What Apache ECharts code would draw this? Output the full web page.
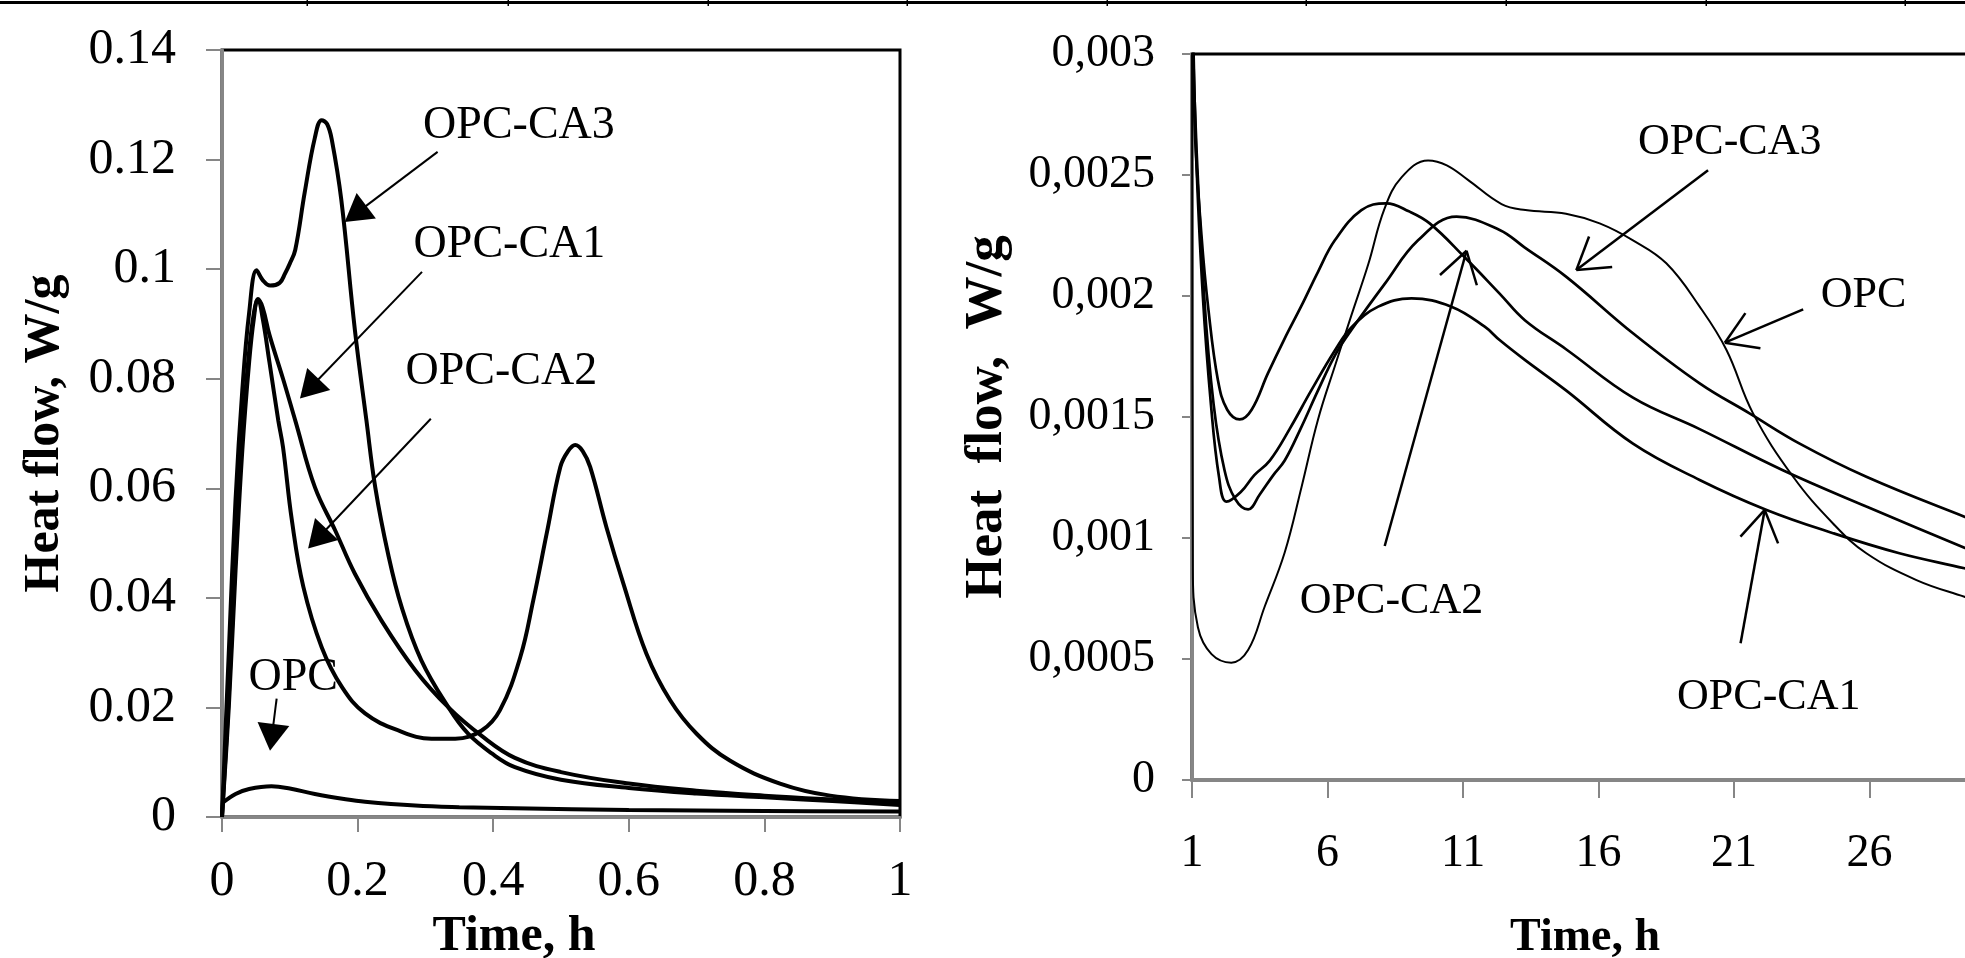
<!DOCTYPE html>
<html>
<head>
<meta charset="utf-8">
<title>Heat flow</title>
<script src="https://cdn.jsdelivr.net/npm/echarts@6/dist/echarts.min.js"></script>
<style>
  html, body { margin: 0; padding: 0; background: #fff; }
  #chart { width: 1965px; height: 958px; }
</style>
</head>
<body>
<div id="chart"></div>
<script>
// ---- data: left panel, first hour (x = h, y = W/g) ----
var opcLeft = [[0, 0.0025], [0.02, 0.0042], [0.04, 0.0051], [0.073, 0.0056], [0.1, 0.0052], [0.137, 0.0042],
  [0.18, 0.0033], [0.211, 0.0028], [0.285, 0.0021], [0.35, 0.0018], [0.432, 0.0016], [0.6, 0.0013], [0.8, 0.0011], [1, 0.001]]
var ca1Left = [[0, 0], [0.01, 0.02], [0.02, 0.045], [0.03, 0.067], [0.04, 0.083], [0.047, 0.091], [0.053, 0.0945],
  [0.06, 0.093], [0.07, 0.088], [0.09, 0.08], [0.108, 0.0724], [0.137, 0.0602], [0.167, 0.0523], [0.196, 0.0444],
  [0.235, 0.0359], [0.285, 0.0268], [0.334, 0.02], [0.383, 0.0148], [0.432, 0.0108], [0.5, 0.0082], [0.6, 0.0061],
  [0.7, 0.0048], [0.8, 0.0039], [0.9, 0.0032], [1, 0.0026]]
var ca2Left = [[0, 0], [0.01, 0.022], [0.02, 0.048], [0.03, 0.07], [0.04, 0.085], [0.047, 0.092], [0.053, 0.0945],
  [0.06, 0.091], [0.07, 0.083], [0.083, 0.0724], [0.09, 0.0675], [0.103, 0.0542], [0.12, 0.042], [0.147, 0.031],
  [0.177, 0.0237], [0.211, 0.0189], [0.26, 0.0158], [0.309, 0.0143], [0.344, 0.0143], [0.383, 0.0158], [0.41, 0.0195],
  [0.44, 0.0292], [0.459, 0.0395], [0.479, 0.0518], [0.499, 0.0639], [0.51, 0.0667], [0.521, 0.0679], [0.532, 0.0668],
  [0.543, 0.0639], [0.567, 0.0529], [0.592, 0.0426], [0.626, 0.0298], [0.661, 0.0213], [0.7, 0.0152], [0.749, 0.0103],
  [0.823, 0.0061], [0.897, 0.0039], [1, 0.0029]]
var ca3Left = [[0, 0], [0.01, 0.03], [0.02, 0.058], [0.03, 0.078], [0.04, 0.092], [0.051, 0.0998], [0.06, 0.098],
  [0.071, 0.097], [0.085, 0.0975], [0.093, 0.0992], [0.1, 0.101], [0.108, 0.1035], [0.122, 0.114], [0.137, 0.124],
  [0.147, 0.1272], [0.155, 0.1265], [0.162, 0.1236], [0.176, 0.1126], [0.196, 0.0889], [0.213, 0.0724], [0.226, 0.0602],
  [0.245, 0.048], [0.265, 0.0383], [0.294, 0.0286], [0.334, 0.02], [0.363, 0.0152], [0.398, 0.0116], [0.432, 0.0091],
  [0.5, 0.0068], [0.6, 0.0053], [0.7, 0.0043], [0.8, 0.0036], [0.9, 0.0029], [1, 0.0022]]

// ---- data: right panel, 1..30 h ----
var opcRight = [[1, 0.0032], [1.03, 0.00088], [1.22, 0.00063], [1.72, 0.00052], [2.45, 0.000485], [3.07, 0.000537],
  [3.68, 0.000716], [4.42, 0.00094], [5.04, 0.00121], [5.65, 0.00149], [6.3, 0.00172], [6.88, 0.00192], [7.5, 0.00213],
  [8.1, 0.00236], [8.73, 0.00249], [9.71, 0.00256], [10.4, 0.00254], [11.18, 0.00248], [12.42, 0.00238], [13.3, 0.002355],
  [14.8, 0.00234], [16.04, 0.0023], [17.27, 0.00223], [18.5, 0.002135], [19.73, 0.001956], [20.72, 0.001777],
  [21.7, 0.001515], [23.18, 0.001253], [24.65, 0.00106], [25.88, 0.000937], [27.73, 0.000826], [29.5, 0.000757], [30, 0.00074]]
var ca1Right = [[1, 0.0034], [1.15, 0.0026], [1.4, 0.002], [1.7, 0.00155], [2.0, 0.00125], [2.27, 0.00115],
  [2.8, 0.00119], [3.3, 0.00126], [3.87, 0.00132], [4.6, 0.00145], [5.4, 0.00161], [6.3, 0.00178], [6.88, 0.00187],
  [7.87, 0.001956], [9.1, 0.00199], [10.57, 0.001956], [11.8, 0.001873], [12.35, 0.001818], [13.28, 0.001736],
  [14.8, 0.00161], [17.27, 0.00139], [19.73, 0.00124], [22.2, 0.001116], [24.65, 0.00102], [27.1, 0.000937],
  [29.5, 0.000875], [30, 0.00086]]
var ca2Right = [[1, 0.0034], [1.1, 0.0027], [1.35, 0.00225], [1.6, 0.00195], [1.96, 0.00165], [2.3, 0.00153],
  [2.76, 0.00149], [3.2, 0.00153], [3.8, 0.00168], [4.4, 0.00182], [5.04, 0.00196], [5.65, 0.0021], [6.27, 0.00223],
  [7.25, 0.002355], [8.17, 0.002383], [9.0, 0.00235], [9.77, 0.0023], [11.06, 0.00216], [12.35, 0.00201],
  [13.28, 0.0019], [14.8, 0.00178], [17.27, 0.00158], [19.73, 0.00145], [22.8, 0.00128], [25.88, 0.00113],
  [29.5, 0.00096], [30, 0.00094]]
var ca3Right = [[1, 0.0034], [1.1, 0.0028], [1.45, 0.002], [1.8, 0.00155], [2.2, 0.00128], [2.6, 0.00116],
  [3.07, 0.001118], [3.5, 0.00118], [4.0, 0.00126], [4.42, 0.00132], [5.0, 0.00145], [5.65, 0.00161], [6.3, 0.00176],
  [6.88, 0.00186], [8.11, 0.00205], [9.34, 0.00223], [10.76, 0.002328], [12.35, 0.002273], [13.28, 0.0022],
  [14.8, 0.00208], [17.27, 0.001846], [19.73, 0.001639], [21.57, 0.001515], [23.42, 0.00139], [25.88, 0.001253],
  [29.5, 0.001088], [30, 0.00107]]

// tick labels
var leftXLabels = ['0', '0.2', '0.4', '0.6', '0.8', '1']
var leftYLabels = ['0', '0.02', '0.04', '0.06', '0.08', '0.1', '0.12', '0.14']
var rightXLabels = ['1', '6', '11', '16', '21', '26']
var rightYLabels = ['0', '0,0005', '0,001', '0,0015', '0,002', '0,0025', '0,003']

// callouts (data coordinates): label centre, arrow start, arrow tip
var leftNames = ['OPC-CA3', 'OPC-CA1', 'OPC-CA2', 'OPC']
var leftTextAt = [[0.438, 0.1261], [0.424, 0.1045], [0.412, 0.0813], [0.105, 0.0253]]
var leftArrowFrom = [[0.318, 0.1214], [0.295, 0.0995], [0.308, 0.0727], [0.0806, 0.0216]]
var leftArrowTo = [[0.181, 0.1086], [0.115, 0.0764], [0.127, 0.049], [0.0708, 0.0121]]
var rightNames = ['OPC-CA3', 'OPC', 'OPC-CA2', 'OPC-CA1']
var rightTextAt = [[20.84, 0.002636], [25.78, 0.002002], [8.36, 0.000737], [22.28, 0.000341]]
var rightArrowFrom = [[20.04, 0.00252], [23.55, 0.001945], [8.11, 0.000967], [21.24, 0.000565]]
var rightArrowTo = [[15.18, 0.002107], [20.66, 0.001807], [11.13, 0.002187], [22.13, 0.001116]]

var FONT = '"Liberation Serif", "Times New Roman", serif'
var AXIS_GREY = '#868686'

function labels(names, textAt, fontSize) {
  return {
    silent: true,
    animation: false,
    symbol: 'rect',
    symbolSize: 1,
    itemStyle: { color: 'rgba(0,0,0,0)' },
    label: {
      show: true,
      position: 'inside',
      formatter: function (p) { return p.name },
      color: '#000',
      fontSize: fontSize,
      fontFamily: FONT
    },
    data: names.map(function (n, i) {
      return { name: n, coord: textAt[i] }
    })
  }
}

function curve(data, idx, width, marks) {
  var s = {
    type: 'line',
    xAxisIndex: idx,
    yAxisIndex: idx,
    data: data,
    showSymbol: false,
    smooth: 0.4,
    clip: true,
    animation: false,
    lineStyle: { color: '#000', width: width }
  }
  if (marks) s.markPoint = marks
  return s
}

function valueAxis(o) {
  return {
    type: 'value',
    gridIndex: o.grid,
    min: o.min,
    max: o.max,
    interval: o.interval,
    splitLine: { show: false },
    axisLine: { show: true, onZero: false, lineStyle: { color: AXIS_GREY, width: o.lineWidth } },
    axisTick: { show: true, inside: false, length: o.tickLen, lineStyle: { color: AXIS_GREY, width: 2 } },
    axisLabel: {
      margin: o.margin,
      color: '#000',
      fontSize: o.fontSize,
      fontFamily: FONT,
      showMaxLabel: o.showMax,
      formatter: function (v) {
        return o.labels[Math.round((v - o.min) / o.interval)]
      }
    },
    name: o.name,
    nameLocation: 'middle',
    nameGap: o.nameGap,
    nameRotate: o.nameRotate,
    nameTextStyle: {
      color: '#000',
      fontSize: o.nameSize,
      fontWeight: 'bold',
      fontFamily: FONT,
      padding: o.namePadding || 0
    }
  }
}

// thin rule with ticks along the very top edge (page table border)
var topTicks = [307, 508, 708, 907, 1107, 1306, 1506, 1706, 1905]
var topDecor = [{ type: 'rect', shape: { x: 0, y: 1, width: 1965, height: 3 }, style: { fill: '#000' }, silent: true }]
  .concat(topTicks.map(function (x) {
    return { type: 'rect', shape: { x: x - 0.5, y: 0, width: 1.5, height: 6 }, style: { fill: '#000' }, silent: true }
  }))

var chart = echarts.init(document.getElementById('chart'), null, { renderer: 'canvas' })
chart.setOption({
  animation: false,
  backgroundColor: '#fff',
  graphic: topDecor,
  grid: [
    { left: 222, top: 50, width: 678, height: 767, containLabel: false, outerBoundsMode: 'none',
      show: true, borderColor: '#000', borderWidth: 3, backgroundColor: 'transparent' },
    { left: 1192, top: 54, width: 786, height: 726, containLabel: false, outerBoundsMode: 'none',
      show: true, borderColor: '#000', borderWidth: 3, backgroundColor: 'transparent' }
  ],
  xAxis: [
    valueAxis({ grid: 0, min: 0, max: 1, interval: 0.2, labels: leftXLabels, lineWidth: 3, tickLen: 15, margin: 40,
      fontSize: 50, showMax: true, name: 'Time, h', nameGap: 87, nameSize: 50, namePadding: [0, 94, 0, 0] }),
    valueAxis({ grid: 1, min: 1, max: 30, interval: 5, labels: rightXLabels, lineWidth: 4, tickLen: 18, margin: 51,
      fontSize: 46, showMax: false, name: 'Time, h', nameGap: 135, nameSize: 46 })
  ],
  yAxis: [
    valueAxis({ grid: 0, min: 0, max: 0.14, interval: 0.02, labels: leftYLabels, lineWidth: 3, tickLen: 16, margin: 46,
      fontSize: 50, showMax: true, name: 'Heat flow, W/g', nameGap: 152, nameRotate: 90, nameSize: 50 }),
    valueAxis({ grid: 1, min: 0, max: 0.003, interval: 0.0005, labels: rightYLabels, lineWidth: 3, tickLen: 10, margin: 37,
      fontSize: 46, showMax: true, name: 'Heat  flow,  W/g', nameGap: 178, nameRotate: 90, nameSize: 53 })
  ],
  series: [
    curve(opcLeft, 0, 4, labels(leftNames, leftTextAt, 46)),
    curve(ca1Left, 0, 4),
    curve(ca2Left, 0, 4),
    curve(ca3Left, 0, 4),
    curve(opcRight, 1, 2, labels(rightNames, rightTextAt, 44)),
    curve(ca1Right, 1, 2.7),
    curve(ca2Right, 1, 2.7),
    curve(ca3Right, 1, 2.7)
  ]
})

// arrows: the head geometry is worked out in pixels through the axes, then fed back as data coords
function toPx(g, p) { return chart.convertToPixel({ gridIndex: g }, p) }
function toData(g, p) { return chart.convertFromPixel({ gridIndex: g }, p) }

// left panel: shaft + filled triangle whose apex lands on the tip
function solidArrows(g, from, to, headW, headL) {
  return from.map(function (f, i) {
    var a = toPx(g, f), b = toPx(g, to[i])
    var dx = b[0] - a[0], dy = b[1] - a[1], len = Math.sqrt(dx * dx + dy * dy)
    var mid = toData(g, [b[0] - dx / len * headL / 2, b[1] - dy / len * headL / 2])
    return [{ coord: f, symbol: 'none' }, { coord: mid, symbol: 'triangle', symbolSize: [headW, headL] }]
  })
}

// right panel: shaft + open V head made of two short strokes
function openArrows(g, from, to, wing, half) {
  var out = []
  from.forEach(function (f, i) {
    var a = toPx(g, f), b = toPx(g, to[i])
    var ang = Math.atan2(a[1] - b[1], a[0] - b[0])
    out.push([{ coord: f }, { coord: to[i] }])
    ;[-half, half].forEach(function (h) {
      var w = toData(g, [b[0] + Math.cos(ang + h) * wing, b[1] + Math.sin(ang + h) * wing])
      out.push([{ coord: to[i] }, { coord: w }])
    })
  })
  return out
}

function arrowLayer(data, width) {
  return {
    silent: true,
    animation: false,
    symbol: ['none', 'none'],
    lineStyle: { color: '#000', width: width, type: 'solid' },
    label: { show: false },
    data: data
  }
}

chart.setOption({
  series: [
    { markLine: arrowLayer(solidArrows(0, leftArrowFrom, leftArrowTo, 32, 27), 2) },
    {}, {}, {},
    { markLine: arrowLayer(openArrows(1, rightArrowFrom, rightArrowTo, 36, 0.56), 2.5) }
  ]
})
</script>
</body>
</html>
